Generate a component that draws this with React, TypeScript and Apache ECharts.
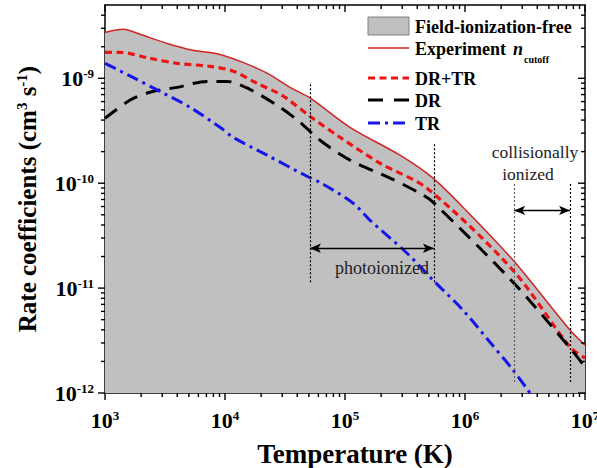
import React, { useEffect, useRef } from 'react';
import * as echarts from 'echarts';

// ---- Data ----
const expT = [1e3, 1.41e3, 2.07e3, 3.29e3, 5.41e3, 9.08e3, 1.41e4, 2.24e4, 3.48e4, 5.1e4, 1.1e5, 2.87e5, 5.41e5, 9.62e5, 2.51e6, 7.5e6, 1e7];
const expK = [2.74e-9, 2.93e-9, 2.57e-9, 2.15e-9, 1.85e-9, 1.69e-9, 1.42e-9, 1.12e-9, 8.2e-10, 6.5e-10, 3.41e-10, 1.85e-10, 1.12e-10, 5.9e-11, 1.85e-11, 3.98e-12, 2.86e-12];

const drtrT = [1e3, 1.33e3, 2.37e3, 3.98e3, 7.5e3, 1.17e4, 1.85e4, 2.99e4, 5.1e4, 9.08e4, 1.96e5, 4.82e5, 2.51e6, 7.5e6, 1e7];
const drtrK = [1.77e-9, 1.77e-9, 1.55e-9, 1.39e-9, 1.3e-9, 1.17e-9, 8.95e-10, 6.88e-10, 4.35e-10, 2.74e-10, 1.55e-10, 8.95e-11, 1.48e-11, 2.74e-12, 2.15e-12];

const drT = [1e3, 1.61e3, 2.37e3, 3.98e3, 7.08e3, 1.04e4, 1.61e4, 2.87e4, 4.22e4, 6.19e4, 1.1e5, 2.37e5, 4.22e5, 5.41e5, 2.51e6, 7.5e6, 1e7];
const drK = [4.16e-10, 6.17e-10, 7.36e-10, 8.2e-10, 9.35e-10, 9.35e-10, 7.85e-10, 5.3e-10, 3.81e-10, 2.57e-10, 1.66e-10, 1.12e-10, 8.0e-11, 6.6e-11, 1.14e-11, 2.69e-12, 1.77e-12];

const trT = [1e3, 1.71e3, 2.87e3, 5.1e3, 9.08e3, 1.17e4, 2.24e4, 5.0e4, 6.19e4, 1.17e5, 1.61e5, 3.29e5, 5.41e5, 9.62e5, 1.61e6, 2.51e6, 3.48e6];
const trK = [1.39e-9, 1.02e-9, 7.5e-10, 5.3e-10, 3.41e-10, 2.74e-10, 1.85e-10, 1.14e-10, 1.02e-10, 6.45e-11, 4.45e-11, 2.15e-11, 1.19e-11, 6.17e-12, 3.06e-12, 1.66e-12, 1.0e-12];

// region boundaries (temperature) and their vertical extents
const photoT = [5.1e4, 5.5e5];
const photoTop = [9.2e-10, 2.4e-10];
const photoBottom = 1.14e-11;
const photoArrowK = 2.4e-11;
const collT = [2.57e6, 7.5e6];
const collTop = 1.0e-10;
const collBottom = 1.27e-12;
const collArrowK = 5.5e-11;

const xMajor = [1e3, 1e4, 1e5, 1e6, 1e7];
const yMajor = [1e-12, 1e-11, 1e-10, 1e-9];
const X_MIN = 1e3, X_MAX = 1e7, Y_MIN = 1e-12, Y_MAX = 5e-9;

function minorTicks(lo: number, hi: number, maxV: number) {
  const out: number[] = [];
  for (let e = lo; e < hi; e++) {
    for (let m = 2; m <= 9; m++) {
      const v = m * Math.pow(10, e);
      if (v < maxV * 0.999) out.push(v);
    }
  }
  return out;
}
const xMinor = minorTicks(3, 7, X_MAX);
const yMinor = minorTicks(-12, -8, Y_MAX);

const FF = '"Liberation Serif", "Times New Roman", serif';

const GRID = { left: 105, top: 5, width: 480, height: 388 };

const labelRich = {
  b: { fontSize: 22, fontWeight: 'bold', fontFamily: FF, lineHeight: 22, verticalAlign: 'bottom', color: '#000' },
  s: { fontSize: 13, fontWeight: 'bold', fontFamily: FF, lineHeight: 13, padding: [0, 0, 14, 0], verticalAlign: 'top', color: '#000' },
};
const expFormatter = (v: number) => {
  const e = Math.round(Math.log10(v));
  if (Math.abs(Math.log10(v) - e) > 1e-6) return '';
  return `{b|10}{s|${e}}`;
};

const pairs = (xs: number[], ys: number[]) => xs.map((x, i) => [x, ys[i]]);

// log-axis frame mapping for the tick decorations
const xFrame = (v: number) => GRID.left + GRID.width * (Math.log10(v) - Math.log10(X_MIN)) / (Math.log10(X_MAX) - Math.log10(X_MIN));
const yFrame = (v: number) => GRID.top + GRID.height - GRID.height * (Math.log10(v) - Math.log10(Y_MIN)) / (Math.log10(Y_MAX) - Math.log10(Y_MIN));

export default function App() {
  const ref = useRef<HTMLDivElement>(null);
  useEffect(() => {
    if (!ref.current) return;
    const chart = echarts.init(ref.current, undefined, { renderer: 'svg' });
    const axisLineStyle = { color: '#000', width: 1.5 };
    const baseX: any = {
      type: 'log', min: X_MIN, max: X_MAX,
      splitLine: { show: false }, axisTick: { show: false },
      axisLine: { show: true, onZero: false, lineStyle: axisLineStyle },
    };
    const baseY: any = {
      type: 'log', min: Y_MIN, max: Y_MAX,
      splitLine: { show: false }, axisTick: { show: false },
      axisLine: { show: true, onZero: false, lineStyle: axisLineStyle },
    };

    const vLine = (T: number, k1: number, k2: number, color: string) => [
      { coord: [T, k1], lineStyle: { color, width: 1.2, type: [2, 2] }, symbol: 'none' },
      { coord: [T, k2], symbol: 'none' },
    ];
    const arrow = (T1: number, T2: number, k: number) => [
      { coord: [T1, k], lineStyle: { color: '#000', width: 1.3, type: 'solid' } },
      { coord: [T2, k] },
    ];

    // tick marks (outward on bottom/left, inward on top/right)
    const tickGraphics: any[] = [];
    const bottom = GRID.top + GRID.height;
    const top = GRID.top;
    const left = GRID.left;
    const right = GRID.left + GRID.width;
    const addX = (v: number, L: number) => {
      const x = xFrame(v);
      tickGraphics.push({ type: 'line', z: 12, shape: { x1: x, y1: bottom, x2: x, y2: bottom + L }, style: { stroke: '#000', lineWidth: 1.4 } });
      tickGraphics.push({ type: 'line', z: 12, shape: { x1: x, y1: top, x2: x, y2: top + L }, style: { stroke: '#000', lineWidth: 1.4 } });
    };
    const addY = (v: number, L: number) => {
      const y = yFrame(v);
      tickGraphics.push({ type: 'line', z: 12, shape: { x1: left, y1: y, x2: left - L, y2: y }, style: { stroke: '#000', lineWidth: 1.4 } });
      tickGraphics.push({ type: 'line', z: 12, shape: { x1: right, y1: y, x2: right - L, y2: y }, style: { stroke: '#000', lineWidth: 1.4 } });
    };
    xMajor.forEach((v) => addX(v, 7));
    xMinor.forEach((v) => addX(v, 4));
    yMajor.forEach((v) => addY(v, 7));
    yMinor.forEach((v) => addY(v, 4));

    const graphics: any[] = [
      // legend
      { type: 'rect', shape: { x: 368, y: 17, width: 41, height: 18 }, style: { fill: '#c0c0c0', stroke: '#808080', lineWidth: 1 }, z: 10 },
      { type: 'text', x: 415, y: 27, style: { text: 'Field-ionization-free', font: `bold 18px ${FF}`, fill: '#000', verticalAlign: 'middle' }, z: 10 },
      { type: 'line', shape: { x1: 368, y1: 48, x2: 409, y2: 48 }, style: { stroke: '#d42525', lineWidth: 1.5 }, z: 10 },
      { type: 'text', x: 415, y: 49, style: { text: 'Experiment', font: `bold 18px ${FF}`, fill: '#000', verticalAlign: 'middle' }, z: 10 },
      { type: 'text', x: 513, y: 49, style: { text: 'n', font: `italic bold 18px ${FF}`, fill: '#000', verticalAlign: 'middle' }, z: 10 },
      { type: 'text', x: 524, y: 59, style: { text: 'cutoff', font: `bold 10px ${FF}`, fill: '#000', verticalAlign: 'middle' }, z: 10 },
      { type: 'line', shape: { x1: 368, y1: 78, x2: 409, y2: 78 }, style: { stroke: '#ec1414', lineWidth: 3.2, lineDash: [7, 4.5] }, z: 10 },
      { type: 'text', x: 415, y: 79, style: { text: 'DR+TR', font: `bold 18px ${FF}`, fill: '#000', verticalAlign: 'middle' }, z: 10 },
      { type: 'line', shape: { x1: 368, y1: 100, x2: 409, y2: 100 }, style: { stroke: '#000', lineWidth: 3, lineDash: [15, 11] }, z: 10 },
      { type: 'text', x: 415, y: 101, style: { text: 'DR', font: `bold 18px ${FF}`, fill: '#000', verticalAlign: 'middle' }, z: 10 },
      { type: 'line', shape: { x1: 368, y1: 123, x2: 409, y2: 123 }, style: { stroke: '#1616e8', lineWidth: 3, lineDash: [12, 5, 3, 5] }, z: 10 },
      { type: 'text', x: 415, y: 124, style: { text: 'TR', font: `bold 18px ${FF}`, fill: '#000', verticalAlign: 'middle' }, z: 10 },
      // annotations
      { type: 'text', x: 382, y: 268, style: { text: 'photoionized', font: `18px ${FF}`, fill: '#222', align: 'center', verticalAlign: 'middle' }, z: 10 },
      { type: 'text', x: 535, y: 152, style: { text: 'collisionally', font: `17.5px ${FF}`, fill: '#222', align: 'center', verticalAlign: 'middle' }, z: 10 },
      { type: 'text', x: 528, y: 174, style: { text: 'ionized', font: `17.5px ${FF}`, fill: '#222', align: 'center', verticalAlign: 'middle' }, z: 10 },
      ...tickGraphics,
    ];

    const option: any = {
      animation: false,
      backgroundColor: '#fff',
      grid: { ...GRID, outerBoundsMode: 'none' },
      xAxis: [
        {
          ...baseX, position: 'bottom',
          axisLabel: { show: true, customValues: xMajor, formatter: expFormatter, rich: labelRich, margin: 16 },
          name: 'Temperature (K)', nameLocation: 'middle', nameGap: 33,
          nameTextStyle: { fontFamily: FF, fontWeight: 'bold', fontSize: 27, color: '#000', padding: [0, 0, 0, 20] },
        },
        { ...baseX, position: 'top', axisLabel: { show: false } },
      ],
      yAxis: [
        {
          ...baseY, position: 'left',
          axisLabel: { show: true, customValues: yMajor, formatter: expFormatter, rich: labelRich, margin: 11 },
          name: '{t|Rate coefficients (cm}{u|3}{t| s}{u|-1}{t|)}', nameLocation: 'middle', nameRotate: 90, nameGap: 58,
          nameTextStyle: {
            rich: {
              t: { fontFamily: FF, fontWeight: 'bold', fontSize: 25, lineHeight: 25, verticalAlign: 'bottom', color: '#000' },
              u: { fontFamily: FF, fontWeight: 'bold', fontSize: 15, lineHeight: 15, padding: [0, 0, 14, 0], verticalAlign: 'top', color: '#000' },
            },
          },
        },
        { ...baseY, position: 'right', axisLabel: { show: false } },
      ],
      series: [
        {
          name: 'Experiment', type: 'line', data: pairs(expT, expK), showSymbol: false, symbol: 'none',
          smooth: 0.3,
          lineStyle: { color: '#d42525', width: 1.5 },
          areaStyle: { color: '#c0c0c0', opacity: 1, origin: 'start' },
          z: 1,
        },
        {
          name: 'DR+TR', type: 'line', data: pairs(drtrT, drtrK), showSymbol: false, symbol: 'none',
          smooth: 0.3,
          lineStyle: { color: '#ec1414', width: 3.2, type: [7, 4.5] }, z: 3,
        },
        {
          name: 'DR', type: 'line', data: pairs(drT, drK), showSymbol: false, symbol: 'none',
          smooth: 0.3,
          lineStyle: { color: '#000', width: 3, type: [15, 9] }, z: 3,
        },
        {
          name: 'TR', type: 'line', data: pairs(trT, trK), showSymbol: false, symbol: 'none',
          smooth: 0.3,
          lineStyle: { color: '#1616e8', width: 3, type: [12, 5, 3, 5] }, z: 3,
        },
        {
          name: 'guides', type: 'line', data: [], z: 4,
          markLine: {
            silent: true, animation: false, symbol: 'none',
            label: { show: false },
            data: [
              vLine(photoT[0], photoBottom, photoTop[0], '#000'),
              vLine(photoT[1], photoBottom, photoTop[1], '#000'),
              vLine(collT[0], collBottom, collTop, '#666'),
              vLine(collT[1], collBottom, collTop, '#000'),
            ],
          },
        },
        {
          name: 'arrows', type: 'line', data: [], z: 4,
          markLine: {
            silent: true, animation: false, symbol: ['arrow', 'arrow'], symbolSize: [7, 11],
            label: { show: false },
            data: [
              arrow(photoT[0], photoT[1], photoArrowK),
              arrow(collT[0], collT[1], collArrowK),
            ],
          },
        },
      ],
      graphic: graphics,
    };
    chart.setOption(option);
    return () => chart.dispose();
  }, []);
  return <div ref={ref} style={{ position: 'fixed', left: 0, top: 0, width: 597, height: 468, background: '#fff' }} />;
}
